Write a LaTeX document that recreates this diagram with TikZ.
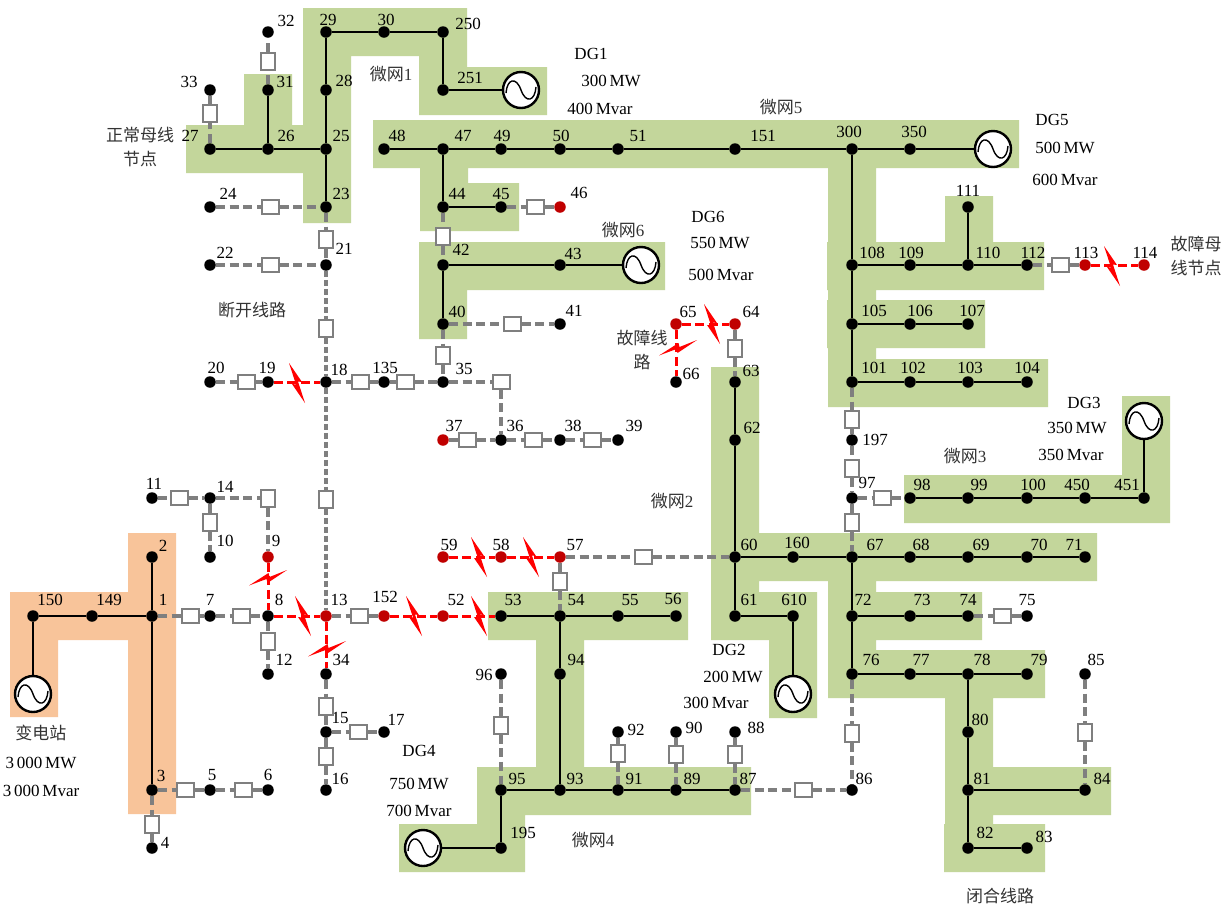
\documentclass[tikz,border=0pt]{standalone}
\usepackage{fontspec}
\setmainfont{Liberation Serif}
\newfontfamily\cjk{Noto Sans CJK SC}
\usetikzlibrary{calc}
\pgfdeclarelayer{areas}
\pgfdeclarelayer{wires}
\pgfsetlayers{areas,wires,main}
\definecolor{mgreen}{HTML}{C3D69B}
\definecolor{morange}{HTML}{F8C49A}
\definecolor{wiregray}{HTML}{7F7F7F}
\definecolor{faultred}{HTML}{FF0000}
\definecolor{busred}{HTML}{C00000}
\definecolor{cjkgray}{HTML}{333333}
\tikzset{
  x=1pt,y=-1pt,
  busn/.style={circle,fill=black,minimum size=11.5pt,inner sep=0pt},
  busr/.style={circle,fill=busred,minimum size=11.5pt,inner sep=0pt},
  swh/.style={rectangle,draw=wiregray,line width=2pt,fill=white,minimum width=17pt,minimum height=13.5pt,inner sep=0pt},
  swv/.style={rectangle,draw=wiregray,line width=2pt,fill=white,minimum width=13.5pt,minimum height=17pt,inner sep=0pt},
  sol/.style={draw=black,line width=1.9pt},
  graywire/.style={draw=wiregray,line width=3.2pt,dash pattern=on 9pt off 4.7pt},
  graywirefine/.style={draw=wiregray,line width=3.2pt,dash pattern=on 6pt off 3pt},
  rw/.style={draw=faultred,line width=3pt,dash pattern=on 9pt off 4.5pt},
  txt/.style={inner sep=0pt,font=\fontsize{17}{20}\selectfont,text=black},
  ctxt/.style={inner sep=0pt,font=\fontsize{17}{24}\selectfont\cjk,text=cjkgray,align=center},
  gensrc/.style={circle,draw=black,fill=white,line width=2.4pt,minimum size=36pt,inner sep=0pt,
    path picture={
      \draw[black,line width=1.4pt,shift={(path picture bounding box.center)}] (-15,3)
        .. controls (-14,-11) and (-5,-14) .. (0,0)
        .. controls (5,14) and (14,11) .. (15,-3);
    }},
}
\newcommand{\bus}[5]{\node[busn] (n#1) at (#2,#3) {}; \node[txt] (l#1) at (#4,#5) {#1};}
\newcommand{\busR}[5]{\node[busr] (n#1) at (#2,#3) {}; \node[txt] (l#1) at (#4,#5) {#1};}
\newcommand{\conn}[5]{\node[#5] (s#1x#2) at (#3,#4) {};}
\newcommand{\boltV}[2]{\fill[faultred] (#1-19,#2+7.5) -- (#1+0.5,#2-5) -- (#1+1.5,#2-1) -- (#1+19,#2-8) -- (#1-0.5,#2+5) -- (#1-1.5,#2+1) -- cycle;}
\newcommand{\boltH}[2]{\fill[faultred] (#1-8,#2-20) -- (#1+5,#2-1) -- (#1+1,#2-1.5) -- (#1+8,#2+20) -- (#1-5,#2+1) -- (#1-1,#2+1.5) -- cycle;}
\begin{document}
\begin{tikzpicture}
\useasboundingbox (0,0) rectangle (1229,906);
\begin{pgfonlayer}{areas}
\fill[white] (0,0) rectangle (1229,906);
% substation
\fill[morange] (10,592) rectangle (176,640) (10,592) rectangle (58,717) (128,533) rectangle (176,814);
% microgrid 1
\fill[mgreen] (303,8) rectangle (467,56) (419,8) rectangle (467,115) (419,67) rectangle (547,115)
  (303,8) rectangle (351,223) (186,125) rectangle (351,173) (244,74) rectangle (292,173);
% microgrid 5
\fill[mgreen] (373,120) rectangle (1019,168) (420,120) rectangle (468,231) (420,183) rectangle (519,231)
  (828,120) rectangle (876,407) (827,242) rectangle (1044,290) (945,196) rectangle (993,290)
  (827,300) rectangle (985,348) (828,359) rectangle (1048,407);
% microgrid 6
\fill[mgreen] (419,242) rectangle (665,290) (419,242) rectangle (467,339);
% microgrid 3
\fill[mgreen] (904,475) rectangle (1170,523) (1122,396) rectangle (1170,523);
% microgrid 2
\fill[mgreen] (711,367) rectangle (759,640) (711,592) rectangle (817,640) (769,592) rectangle (817,718)
  (711,533) rectangle (1097,581) (828,533) rectangle (876,698) (828,592) rectangle (982,640)
  (828,650) rectangle (1045,698) (945,650) rectangle (993,872) (945,767) rectangle (1111,815) (944,824) rectangle (1045,872);
% microgrid 4
\fill[mgreen] (488,592) rectangle (688,640) (536,592) rectangle (584,815) (477,767) rectangle (751,815)
  (477,767) rectangle (525,872) (399,824) rectangle (525,872);
\end{pgfonlayer}
% buses: name, x, y, label x, label y
\bus{32}{268}{32}{286}{21}\bus{29}{326}{32}{328}{20}\bus{30}{384}{32}{386}{20}\bus{250}{443}{32}{468}{24}
\bus{33}{210}{90}{189}{82}\bus{31}{268}{90}{285}{82}\bus{28}{326}{90}{344}{81}\bus{251}{443}{90}{470}{78}
\bus{27}{210}{149}{190}{136}\bus{26}{268}{149}{286}{136}\bus{25}{326}{149}{341}{136}
\bus{48}{384}{149}{397}{136}\bus{47}{443}{149}{463}{136}\bus{49}{501}{149}{502}{136}\bus{50}{560}{149}{561}{136}
\bus{51}{618}{149}{638}{136}\bus{151}{735}{149}{763}{136}\bus{300}{852}{149}{849}{132}\bus{350}{910}{149}{914}{132}
\bus{24}{210}{207}{228}{194}\bus{23}{326}{207}{341}{194}\bus{44}{443}{207}{457}{194}\bus{45}{501}{207}{501}{194}\busR{46}{560}{207}{579}{193}
\bus{22}{210}{265}{225}{253}\bus{21}{326}{265}{344}{249}\bus{42}{443}{265}{461}{250}\bus{43}{560}{265}{573}{254}
\bus{111}{968}{207}{968}{191}\bus{108}{852}{265}{872}{253}\bus{109}{910}{265}{911}{253}\bus{110}{968}{265}{988}{253}\bus{112}{1027}{265}{1033}{253}
\busR{113}{1085}{265}{1086}{253}\busR{114}{1144}{265}{1145}{253}
\bus{40}{443}{324}{457}{312}\bus{41}{560}{324}{574}{311}\busR{65}{676}{324}{688}{312}\busR{64}{735}{324}{751}{312}
\bus{105}{852}{324}{874}{311}\bus{106}{910}{324}{920}{311}\bus{107}{968}{324}{972}{311}
\bus{20}{210}{382}{216}{368}\bus{19}{268}{382}{267}{368}\bus{18}{326}{382}{339}{370}\bus{135}{384}{382}{385}{368}\bus{35}{443}{382}{464}{369}
\bus{66}{676}{382}{691}{374}\bus{63}{735}{382}{751}{371}
\bus{101}{852}{382}{874}{368}\bus{102}{910}{382}{913}{368}\bus{103}{968}{382}{970}{368}\bus{104}{1027}{382}{1027}{368}
\busR{37}{443}{440}{454}{426}\bus{36}{501}{440}{515}{426}\bus{38}{560}{440}{573}{426}\bus{39}{618}{440}{634}{426}
\bus{62}{735}{440}{752}{428}\bus{197}{852}{440}{875}{440}
\bus{11}{152}{498}{154}{484}\bus{14}{210}{498}{225}{487}
\bus{97}{852}{498}{867}{483}\bus{98}{910}{498}{922}{485}\bus{99}{968}{498}{979}{485}\bus{100}{1027}{498}{1033}{485}\bus{450}{1085}{498}{1077}{485}\bus{451}{1144}{498}{1127}{485}
\bus{10}{210}{557}{225}{541}\busR{9}{268}{557}{276}{541}\bus{2}{152}{557}{163}{546}
\busR{59}{443}{557}{449}{545}\busR{58}{501}{557}{501}{545}\busR{57}{560}{557}{575}{545}
\bus{60}{735}{557}{749}{545}\bus{160}{793}{557}{797}{543}\bus{67}{852}{557}{875}{545}\bus{68}{910}{557}{921}{545}\bus{69}{968}{557}{981}{545}\bus{70}{1027}{557}{1039}{545}\bus{71}{1085}{557}{1074}{545}
\bus{150}{33}{616}{50}{600}\bus{149}{92}{616}{109}{600}\bus{1}{152}{616}{163}{600}\bus{7}{210}{616}{210}{600}\bus{8}{268}{616}{279}{600}
\busR{13}{326}{616}{339}{600}\busR{152}{384}{616}{385}{597}\busR{52}{443}{616}{456}{600}
\bus{53}{501}{616}{513}{600}\bus{54}{560}{616}{576}{600}\bus{55}{618}{616}{630}{600}\bus{56}{676}{616}{673}{599}
\bus{61}{735}{616}{749}{600}\bus{610}{793}{616}{794}{600}\bus{72}{852}{616}{863}{600}\bus{73}{910}{616}{922}{600}\bus{74}{968}{616}{968}{600}\bus{75}{1027}{616}{1027}{600}
\bus{12}{268}{674}{284}{660}\bus{34}{326}{674}{341}{660}\bus{96}{501}{674}{484}{675}\bus{94}{560}{674}{576}{660}
\bus{76}{852}{674}{871}{660}\bus{77}{910}{674}{921}{660}\bus{78}{968}{674}{982}{660}\bus{79}{1027}{674}{1039}{660}\bus{85}{1085}{674}{1096}{660}
\bus{15}{326}{732}{340}{718}\bus{17}{384}{732}{396}{720}\bus{92}{618}{732}{636}{730}\bus{90}{676}{732}{694}{728}\bus{88}{735}{732}{756}{728}\bus{80}{968}{732}{980}{720}
\bus{3}{152}{790}{161}{776}\bus{5}{210}{790}{212}{775}\bus{6}{268}{790}{268}{775}\bus{16}{326}{790}{340}{779}
\bus{95}{501}{790}{517}{779}\bus{93}{560}{790}{575}{779}\bus{91}{618}{790}{634}{779}\bus{89}{676}{790}{692}{779}\bus{87}{735}{790}{748}{779}
\bus{86}{852}{790}{864}{779}\bus{81}{968}{790}{982}{779}\bus{84}{1085}{790}{1102}{779}
\bus{4}{152}{848}{165}{843}\bus{195}{501}{848}{523}{833}\bus{82}{968}{848}{985}{833}\bus{83}{1027}{848}{1044}{837}
% generators
\node[gensrc] (g1) at (521,90) {};
\node[gensrc] (g5) at (993,149) {};
\node[gensrc] (g6) at (641,265) {};
\node[gensrc] (g3) at (1144,421) {};
\node[gensrc] (g2) at (793,694) {};
\node[gensrc] (g4) at (423,848) {};
\node[gensrc] (g0) at (33,694) {};
% switches on the dashed grey lines
\conn{31}{32}{268}{61}{swv}\conn{27}{33}{210}{113}{swv}
\conn{24}{23}{270}{207}{swh}\conn{23}{21}{326}{239}{swv}\conn{22}{21}{270}{265}{swh}
\conn{21}{18}{326}{328}{swv}\conn{18}{13}{326}{499}{swv}
\conn{44}{42}{443}{236}{swv}\conn{45}{46}{535}{207}{swh}\conn{40}{41}{512}{324}{swh}\conn{40}{35}{443}{355}{swv}
\conn{18}{135}{360}{382}{swh}\conn{135}{35}{405}{382}{swh}\conn{35}{36}{501}{382}{swh}\conn{20}{19}{246}{382}{swh}
\conn{37}{36}{467}{440}{swh}\conn{36}{38}{533}{440}{swh}\conn{38}{39}{592}{440}{swh}
\conn{64}{63}{735}{348}{swv}
\conn{101}{197}{852}{419}{swv}\conn{197}{97}{852}{468}{swv}\conn{97}{67}{852}{522}{swv}\conn{97}{98}{882}{498}{swh}
\conn{76}{86}{852}{733}{swv}\conn{87}{86}{803}{790}{swh}\conn{85}{84}{1085}{732}{swv}
\conn{112}{113}{1060}{265}{swh}\conn{74}{75}{1002}{616}{swh}
\conn{57}{60}{643}{557}{swh}\conn{57}{54}{560}{581}{swv}
\conn{96}{95}{501}{725}{swv}\conn{92}{91}{618}{753}{swv}\conn{90}{89}{676}{754}{swv}\conn{88}{87}{735}{754}{swv}
\conn{11}{14}{179}{498}{swh}\conn{14}{10}{210}{522}{swv}\conn{14}{9}{268}{498}{swv}
\conn{1}{7}{190}{616}{swh}\conn{7}{8}{241}{616}{swh}\conn{8}{12}{268}{641}{swv}\conn{13}{152}{359}{616}{swh}
\conn{34}{15}{326}{706}{swv}\conn{15}{16}{326}{756}{swv}\conn{15}{17}{358}{732}{swh}
\conn{3}{5}{185}{790}{swh}\conn{5}{6}{243}{790}{swh}\conn{3}{4}{152}{824}{swv}
\begin{pgfonlayer}{wires}
% solid lines
\foreach \a/\b in {29/30,30/250,250/251,29/28,28/25,25/23,27/26,26/25,26/31,
  48/47,47/49,49/50,50/51,51/151,151/300,300/350,47/44,44/45,42/43,42/40,
  300/108,108/105,105/101,108/109,109/110,110/112,110/111,105/106,106/107,101/102,102/103,103/104,
  98/99,99/100,100/450,450/451,63/62,62/60,60/61,61/610,60/160,160/67,67/68,68/69,69/70,70/71,
  67/72,72/76,72/73,73/74,76/77,77/78,78/79,78/80,80/81,81/82,81/84,82/83,
  53/54,54/55,55/56,54/94,94/93,95/93,93/91,91/89,89/87,95/195,150/149,149/1,2/1,1/3}
  {\draw[sol] (n\a) -- (n\b);}
\draw[sol] (n251) -- (g1);
\draw[sol] (n350) -- (g5);
\draw[sol] (n43) -- (g6);
\draw[sol] (n451) -- (g3);
\draw[sol] (n610) -- (g2);
\draw[sol] (n195) -- (g4);
\draw[sol] (n150) -- (g0);
% fault lines
\foreach \a/\b in {65/64,65/66,9/8,8/13,13/34,19/18,152/52,52/53,59/58,58/57,113/114}
  {\draw[rw] (n\a) -- (n\b);}
% switched lines, each side of its switch drawn on its own
\foreach \a/\b in {31/32,27/33,24/23,23/21,22/21,44/42,45/46,40/41,40/35,18/135,135/35,35/36,20/19,
  37/36,36/38,38/39,64/63,101/197,197/97,97/67,97/98,76/86,87/86,85/84,112/113,74/75,57/60,57/54,
  96/95,92/91,90/89,88/87,11/14,14/10,14/9,1/7,7/8,8/12,13/152,34/15,15/16,15/17,3/5,5/6,3/4}
  {\draw[graywire] (n\a) -- (s\a x\b); \draw[graywire] (s\a x\b) -- (n\b);}
\foreach \a/\b in {21/18,18/13}
  {\draw[graywirefine] (n\a) -- (s\a x\b); \draw[graywirefine] (s\a x\b) -- (n\b);}
\end{pgfonlayer}
% fault bolts
\boltV{268}{578}\boltV{327}{649}\boltV{678}{348}
\boltH{303}{616}\boltH{297}{383}\boltH{479}{557}\boltH{531}{557}\boltH{414}{616}\boltH{479}{616}\boltH{1112}{266}\boltH{712}{324}
% DG and substation captions
\node[txt] (t1a) at (591,54) {DG1};
\node[txt] (t1b) at (611,81) {300\,MW};
\node[txt] (t1c) at (600,109) {400\,Mvar};
\node[txt] (t6a) at (708,217) {DG6};
\node[txt] (t6b) at (720,243) {550\,MW};
\node[txt] (t6c) at (721,275) {500\,Mvar};
\node[txt] (t5a) at (1052,120) {DG5};
\node[txt] (t5b) at (1065,148) {500\,MW};
\node[txt] (t5c) at (1065,180) {600\,Mvar};
\node[txt] (t3a) at (1084,403) {DG3};
\node[txt] (t3b) at (1077,428) {350\,MW};
\node[txt] (t3c) at (1071,455) {350\,Mvar};
\node[txt] (t2a) at (729,650) {DG2};
\node[txt] (t2b) at (733,677) {200\,MW};
\node[txt] (t2c) at (716,703) {300\,Mvar};
\node[txt] (t4a) at (419,751) {DG4};
\node[txt] (t4b) at (419,784) {750\,MW};
\node[txt] (t4c) at (419,811) {700\,Mvar};
\node[txt] (t0b) at (41,763) {3\,000\,MW};
\node[txt] (t0c) at (41,791) {3\,000\,Mvar};
\node[ctxt] (t0a) at (41,733) {变电站};
\node[ctxt] (m1) at (391,74) {微网{\fontspec{Liberation Serif}1}};
\node[ctxt] (m5) at (781,107) {微网{\fontspec{Liberation Serif}5}};
\node[ctxt] (m6) at (623,230) {微网{\fontspec{Liberation Serif}6}};
\node[ctxt] (m3) at (965,456) {微网{\fontspec{Liberation Serif}3}};
\node[ctxt] (m2) at (672,501) {微网{\fontspec{Liberation Serif}2}};
\node[ctxt] (m4) at (593,840) {微网{\fontspec{Liberation Serif}4}};
\node[ctxt] (c1) at (140,147) {正常母线\\节点};
\node[ctxt] (c2) at (252,310) {断开线路};
\node[ctxt] (c3) at (642,350) {故障线\\路};
\node[ctxt] (c4) at (1196,256) {故障母\\线节点};
\node[ctxt] (c5) at (1000,896) {闭合线路};
\end{tikzpicture}
\end{document}
